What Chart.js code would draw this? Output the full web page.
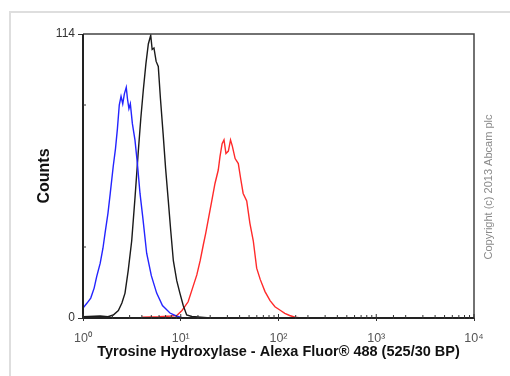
<!DOCTYPE html>
<html>
<head>
<meta charset="utf-8">
<script src="https://cdn.jsdelivr.net/npm/chart.js@4/dist/chart.umd.min.js"></script>
<style>
  html, body { margin: 0; padding: 0; background: #fff; }
  canvas { display: block; }
</style>
</head>
<body>
<canvas id="c" width="510" height="376"></canvas>
<script>
// ---- data (fluorescence intensity vs. counts) ----
const blueX = [1.0, 1.1, 1.2, 1.3, 1.38, 1.5, 1.6, 1.68, 1.8, 1.9, 2.04, 2.15, 2.25, 2.35, 2.45, 2.55, 2.65, 2.77, 2.85, 2.95, 3.05, 3.2, 3.4, 3.6, 3.83, 4.1, 4.48, 5.0, 5.67, 6.5, 7.76, 9.0, 10.5];
const blueY = [4, 6, 8, 12, 16.6, 22, 28, 34, 42, 50, 61, 68, 76, 85.5, 89, 86, 90, 92.6, 88, 84, 86, 78, 71.5, 62, 50, 40, 26, 17, 10, 5, 2, 0.8, 0];

const blackX = [1.0, 1.5, 1.8, 2.04, 2.3, 2.5, 2.69, 2.9, 3.15, 3.4, 3.68, 3.9, 4.14, 4.4, 4.66, 4.93, 5.1, 5.32, 5.6, 5.89, 6.2, 6.6, 7.0, 7.46, 7.9, 8.4, 9.1, 9.8, 10.6, 11.5, 13, 15, 20];
const blackY = [0.5, 0.8, 0.5, 1.2, 3, 6, 10, 19, 31, 48, 67, 80, 91.5, 102, 110, 113.5, 107.8, 108.4, 103, 101, 88, 74, 60, 47, 35, 23, 15, 10, 5, 1.2, 0.6, 0.4, 0];

const redX = [4, 6, 8, 9.1, 10.3, 11.9, 13.2, 14.6, 15.8, 17, 18, 19.1, 20.7, 22.4, 24.2, 25.2, 26.5, 27.7, 29, 30.7, 32.3, 33.7, 36, 38.8, 41, 43.5, 47.3, 51, 55.2, 59.8, 65, 72.8, 82, 92, 105, 116, 130, 148, 170];
const redY = [0.3, 0.5, 0.8, 1, 3, 6.5, 12, 17.3, 23, 29.3, 34, 39.4, 46.7, 54, 59.4, 64.8, 70, 71.5, 66, 67, 71.5, 69, 64, 62, 56, 50, 47, 38, 31, 20, 15.5, 10.6, 7, 4.5, 3, 1.9, 1, 0.3, 0];

const xTickPowers = [0, 1, 2, 3, 4];
const yTickLabels = [0, 114];
const yMinorTicks = [28.5, 85.5];

const xTitle = 'Tyrosine Hydroxylase - Alexa Fluor\u00AE 488 (525/30 BP)';
const yTitle = 'Counts';
const copyright = 'Copyright (c) 2013 Abcam plc';

const sup = {'0':'\u2070','1':'\u00B9','2':'\u00B2','3':'\u00B3','4':'\u2074'};
const zip = (xs, ys) => xs.map((x, i) => ({x: x, y: ys[i]}));

const decor = {
  id: 'decor',
  beforeDraw(chart) {
    const ctx = chart.ctx;
    ctx.save();
    ctx.strokeStyle = '#dedede';
    ctx.lineWidth = 2;
    ctx.beginPath();
    ctx.moveTo(10, 376);
    ctx.lineTo(10, 12);
    ctx.lineTo(510, 12);
    ctx.stroke();
    ctx.restore();
  },
  afterDraw(chart) {
    const ctx = chart.ctx;
    const a = chart.chartArea;
    const xs = chart.scales.x, ys = chart.scales.y;
    ctx.save();
    ctx.strokeStyle = '#444';
    ctx.lineWidth = 1.5;
    ctx.beginPath();
    ctx.moveTo(a.left, a.top);
    ctx.lineTo(a.right, a.top);
    ctx.lineTo(a.right, a.bottom);
    ctx.stroke();
    ctx.strokeStyle = '#222';
    ctx.lineWidth = 2;
    ctx.beginPath();
    ctx.moveTo(a.left, a.top);
    ctx.lineTo(a.left, a.bottom);
    ctx.lineTo(a.right, a.bottom);
    ctx.stroke();
    ctx.lineWidth = 1;
    ctx.strokeStyle = '#333';
    xs.ticks.forEach(t => {
      const p = xs.getPixelForValue(t.value);
      const major = isMajor(t.value);
      ctx.beginPath();
      ctx.moveTo(p, a.bottom + 1);
      ctx.lineTo(p, a.bottom - (major ? 4 : 3));
      ctx.stroke();
    });
    yMinorTicks.forEach(v => {
      const p = ys.getPixelForValue(v);
      ctx.beginPath();
      ctx.moveTo(a.left, p);
      ctx.lineTo(a.left + 3, p);
      ctx.stroke();
    });
    ctx.fillStyle = '#111';
    ctx.font = 'bold 14.5px "Liberation Sans", Arial, sans-serif';
    ctx.textAlign = 'center';
    ctx.textBaseline = 'middle';
    ctx.fillText(xTitle, 278.5, 352);
    ctx.save();
    ctx.translate(45, 176);
    ctx.rotate(-Math.PI / 2);
    ctx.font = 'bold 16px "Liberation Sans", Arial, sans-serif';
    ctx.fillText(yTitle, 0, 0);
    ctx.restore();
    ctx.save();
    ctx.translate(489, 187);
    ctx.rotate(-Math.PI / 2);
    ctx.fillStyle = '#8a8a8a';
    ctx.font = '11px "Liberation Sans", Arial, sans-serif';
    ctx.fillText(copyright, 0, 0);
    ctx.restore();
    ctx.restore();
  }
};

function isMajor(v) { return Math.abs(Math.log10(v) - Math.round(Math.log10(v))) < 1e-9; }

new Chart(document.getElementById('c'), {
  type: 'line',
  data: {
    datasets: [
      {label: 'Isotype', data: zip(blueX, blueY), borderColor: '#2424ff'},
      {label: 'Unlabelled', data: zip(blackX, blackY), borderColor: '#1a1a1a'},
      {label: 'Tyrosine Hydroxylase', data: zip(redX, redY), borderColor: '#ff2a2a'}
    ]
  },
  options: {
    responsive: false,
    devicePixelRatio: 1,
    animation: false,
    elements: {
      point: {radius: 0},
      line: {borderWidth: 1.4, tension: 0}
    },
    layout: {padding: {top: 34, right: 36, left: 0, bottom: 0}},
    plugins: {legend: {display: false}, tooltip: {enabled: false}},
    scales: {
      x: {
        type: 'logarithmic',
        min: 1,
        max: 10000,
        afterFit: s => { s.height = 58; },
        border: {display: false},
        grid: {
          drawOnChartArea: false,
          drawTicks: true,
          tickLength: 3,
          color: c => (c.tick && isMajor(c.tick.value)) ? '#333' : 'rgba(0,0,0,0)'
        },
        ticks: {
          autoSkip: false,
          maxRotation: 0,
          padding: 10,
          color: '#555',
          font: {family: '"Liberation Sans", Arial, sans-serif', size: 12.5},
          callback: (v) => {
            if (!isMajor(v)) return '';
            const p = Math.round(Math.log10(v));
            return xTickPowers.includes(p) ? '10' + sup[String(p)] : '';
          }
        }
      },
      y: {
        type: 'linear',
        min: 0,
        max: 114,
        afterFit: s => { s.width = 83; },
        afterBuildTicks: s => { s.ticks = yTickLabels.map(v => ({value: v})); },
        border: {display: false},
        grid: {
          drawOnChartArea: false,
          drawTicks: true,
          tickLength: 5,
          color: '#333'
        },
        ticks: {
          padding: 3,
          color: '#333',
          font: {family: '"Liberation Sans", Arial, sans-serif', size: 12},
          callback: v => String(v)
        }
      }
    }
  },
  plugins: [decor]
});
</script>
</body>
</html>
